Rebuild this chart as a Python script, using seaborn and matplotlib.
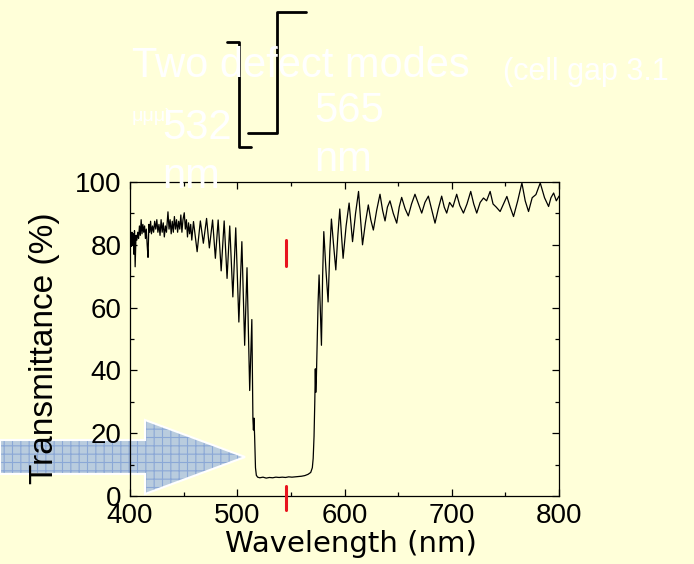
import matplotlib
matplotlib.use("Agg")
import matplotlib.pyplot as plt
import seaborn as sns
import pandas as pd
from matplotlib.patches import Polygon
from matplotlib.ticker import MultipleLocator

# ---------------- data ----------------
wavelength = [
    400.0, 400.6, 401.2, 401.8, 402.4, 403.0, 403.6, 404.2, 404.8, 405.6,
    406.4, 407.2, 408.0, 408.8, 409.6, 410.4, 411.2, 412.0, 412.8, 413.6,
    414.4, 415.2, 416.0, 416.8, 417.6, 418.4, 419.2, 420.0, 421.0, 422.0,
    423.0, 424.0, 425.0, 426.0, 427.0, 428.0, 429.0, 430.0, 431.0, 432.0,
    433.0, 434.0, 435.4, 436.4, 437.4, 438.4, 439.4, 440.4, 441.4, 442.4,
    443.4, 444.4, 445.4, 446.4, 447.4, 448.4, 449.4, 450.6, 451.6, 452.6,
    453.6, 454.6, 455.6, 456.6, 457.6, 459.2, 462.6, 465.6, 468.4, 471.4,
    474.0, 477.0, 479.6, 482.2, 485.0, 487.8, 490.5, 493.0, 495.9, 498.6,
    501.5, 504.3, 506.9, 509.1, 511.6, 513.6, 514.6, 515.1, 515.6, 516.2,
    517.0, 517.8, 519.0, 521.0, 524.0, 527.0, 530.0, 533.0, 536.0, 539.0,
    542.0, 545.0, 548.0, 551.0, 554.0, 557.0, 560.0, 563.0, 566.0, 568.5,
    570.0, 570.8, 571.6, 572.3, 572.8, 573.2, 573.8, 574.5, 575.4, 576.3,
    577.4, 578.5, 579.6, 580.7, 582.7, 584.7, 586.3, 587.8, 589.8, 591.9,
    593.8, 595.6, 597.2, 598.7, 601.5, 604.3, 605.9, 607.5, 610.3, 613.1,
    615.0, 616.8, 619.5, 622.2, 624.5, 626.9, 630.0, 633.1, 635.5, 637.8,
    640.0, 642.4, 645.5, 648.7, 651.0, 653.3, 656.5, 659.5, 662.5, 665.7,
    669.0, 672.0, 675.0, 678.2, 681.5, 684.4, 687.5, 690.6, 693.0, 695.3,
    698.0, 701.0, 704.6, 707.5, 710.9, 714.2, 717.7, 720.5, 723.3, 726.5,
    729.6, 732.5, 735.8, 738.5, 741.5, 745.1, 748.2, 751.4, 754.5, 757.6,
    761.5, 765.4, 768.5, 771.6, 775.0, 778.5, 782.5, 786.5, 790.3, 792.5,
    795.0, 797.5, 800.0,
]
transmittance = [
    78.0, 82.0, 79.5, 84.0, 80.0, 83.5, 77.0, 84.5, 73.0, 83.0,
    81.5, 84.0, 82.0, 86.0, 83.0, 88.0, 83.5, 86.5, 84.0, 86.0,
    82.0, 85.0, 80.0, 76.0, 86.5, 84.0, 87.5, 83.5, 86.0, 84.0,
    87.5, 85.0, 88.0, 84.0, 86.5, 83.0, 88.0, 84.0, 87.0, 82.5,
    86.0, 84.0, 90.5, 85.0, 88.0, 83.5, 87.5, 84.0, 89.0, 85.0,
    88.0, 84.0, 87.5, 85.0, 89.5, 84.0, 88.0, 90.2, 85.0, 88.0,
    82.5, 87.0, 83.5, 86.5, 81.5, 87.4, 77.8, 87.6, 80.5, 88.4,
    79.0, 87.9, 75.7, 87.9, 71.7, 87.6, 69.3, 86.0, 63.4, 85.4,
    55.4, 81.0, 48.0, 72.7, 33.6, 56.2, 24.5, 21.0, 24.8, 19.0,
    9.0, 6.6, 6.0, 5.8, 6.0, 5.7, 5.9, 5.8, 6.0, 5.9,
    6.0, 5.9, 6.1, 6.0, 6.1, 6.2, 6.3, 6.5, 6.9, 7.5,
    9.0, 12.0, 19.0, 30.0, 40.5, 33.0, 38.0, 49.0, 62.0, 70.4,
    60.0, 48.0, 70.0, 84.2, 72.0, 61.8, 78.0, 88.2, 80.0, 72.0,
    83.0, 91.4, 83.0, 75.7, 86.0, 93.3, 87.0, 81.0, 90.0, 97.0,
    88.0, 80.0, 87.0, 92.7, 88.0, 84.7, 91.0, 96.1, 91.0, 87.6,
    92.0, 94.0, 90.0, 86.9, 92.0, 95.1, 91.5, 89.2, 93.0, 96.1,
    93.0, 90.1, 93.5, 95.5, 91.0, 86.9, 91.5, 95.5, 92.0, 90.1,
    93.5, 92.0, 96.1, 92.5, 90.1, 93.0, 97.0, 93.0, 90.1, 93.5,
    94.9, 94.0, 97.0, 93.0, 92.0, 90.6, 93.0, 95.4, 92.0, 89.0,
    94.0, 99.7, 94.0, 90.6, 95.0, 96.0, 99.7, 95.0, 92.2, 95.0,
    96.5, 94.0, 95.5,
]
defect_mark_nm = 545.5
mark_upper = [73.2, 81.5]
mark_lower = [-4.5, 3.2]

title_main = "Two defect modes"
title_sub = "(cell gap 3.1"
title_unit = "μμμ)"
mode1_label = "532\nnm"
mode2_label = "565\nnm"
x_label = "Wavelength (nm)"
y_label = "Transmittance (%)"

# ---------------- figure ----------------
W, H = 694, 564
BG = "#FFFFD9"
sns.set_style("ticks")
plt.rcParams["font.family"] = ["Liberation Sans", "DejaVu Sans"]
plt.rcParams["hatch.linewidth"] = 0.8

fig = plt.figure(figsize=(W / 100, H / 100), dpi=100, facecolor=BG)


def fx(px):
    return px / W


def fy(py):
    return 1 - py / H


ax = fig.add_axes([fx(130), fy(496), fx(559) - fx(130), fy(182) - fy(496)])
ax.set_facecolor(BG)
ax.set_axisbelow(False)

df = pd.DataFrame({"Wavelength": wavelength, "T": transmittance})
sns.lineplot(data=df, x="Wavelength", y="T", ax=ax, color="black",
             linewidth=0.9, estimator=None, sort=False, zorder=3)

ax.plot([defect_mark_nm] * 2, mark_upper, color="#E8141E", lw=2.2, zorder=4)
ax.plot([defect_mark_nm] * 2, mark_lower, color="#E8141E", lw=2.2,
        zorder=4, clip_on=False)

ax.set_xlim(400, 800)
ax.set_ylim(0, 100)
ax.xaxis.set_major_locator(MultipleLocator(100))
ax.xaxis.set_minor_locator(MultipleLocator(50))
ax.yaxis.set_major_locator(MultipleLocator(20))
ax.yaxis.set_minor_locator(MultipleLocator(10))
ax.tick_params(which="both", direction="in", top=True, right=True,
               width=0.9, color="black", labelcolor="black")
ax.tick_params(which="major", length=5, labelsize=20)
ax.tick_params(which="minor", length=3)
ax.tick_params(axis="y", which="major", pad=6)
ax.tick_params(axis="x", which="major", pad=5)
for s in ax.spines.values():
    s.set_linewidth(0.9)
    s.set_color("black")

ax.set_xlabel(x_label, fontsize=21, color="black",
              family=["DejaVu Sans"])
ax.set_ylabel(y_label, fontsize=24, color="black")
ax.xaxis.set_label_coords(0.514, -0.108)
ax.yaxis.set_label_coords(-0.163, 0.47)

# big hatched arrow (decoration)
arrow_px = [(0, 440), (145, 440), (145, 420), (245, 457), (145, 494),
            (145, 474), (0, 474)]
arrow_xy = [(fx(x), fy(y)) for x, y in arrow_px]
fill = Polygon(arrow_xy, closed=True, transform=fig.transFigure,
               facecolor="#B9CCDE", edgecolor="#8BA8D6", linewidth=0,
               hatch="++", zorder=1.5, clip_on=False)
edge = Polygon(arrow_xy, closed=True, transform=fig.transFigure,
               facecolor="none", edgecolor="white", linewidth=1.5,
               zorder=1.6, clip_on=False)
ax.add_patch(fill)
ax.add_patch(edge)

# brackets at top
br1 = [(227, 42), (239, 42), (239, 147), (251, 147)]
br2 = [(306, 12), (277, 12), (277, 133), (248, 133)]
for br in (br1, br2):
    fig.add_artist(plt.Line2D([fx(p[0]) for p in br], [fy(p[1]) for p in br],
                              color="black", lw=2.0, transform=fig.transFigure,
                              zorder=5))

# white annotation text
fig.text(fx(132), fy(77), title_main, color="white", fontsize=30,
         va="baseline", ha="left", zorder=6)
fig.text(fx(503), fy(80), title_sub, color="white", fontsize=22,
         va="baseline", ha="left", zorder=6)
fig.text(fx(132), fy(121), title_unit, color="white", fontsize=14,
         va="baseline", ha="left", zorder=6)
for label, x0, y0 in ((mode1_label, 162, 139), (mode2_label, 314, 122)):
    for i, line in enumerate(label.split("\n")):
        fig.text(fx(x0), fy(y0 + i * 49), line, color="white", fontsize=30,
                 va="baseline", ha="left", zorder=6)

fig.savefig("out.png", dpi=100, facecolor=BG)
